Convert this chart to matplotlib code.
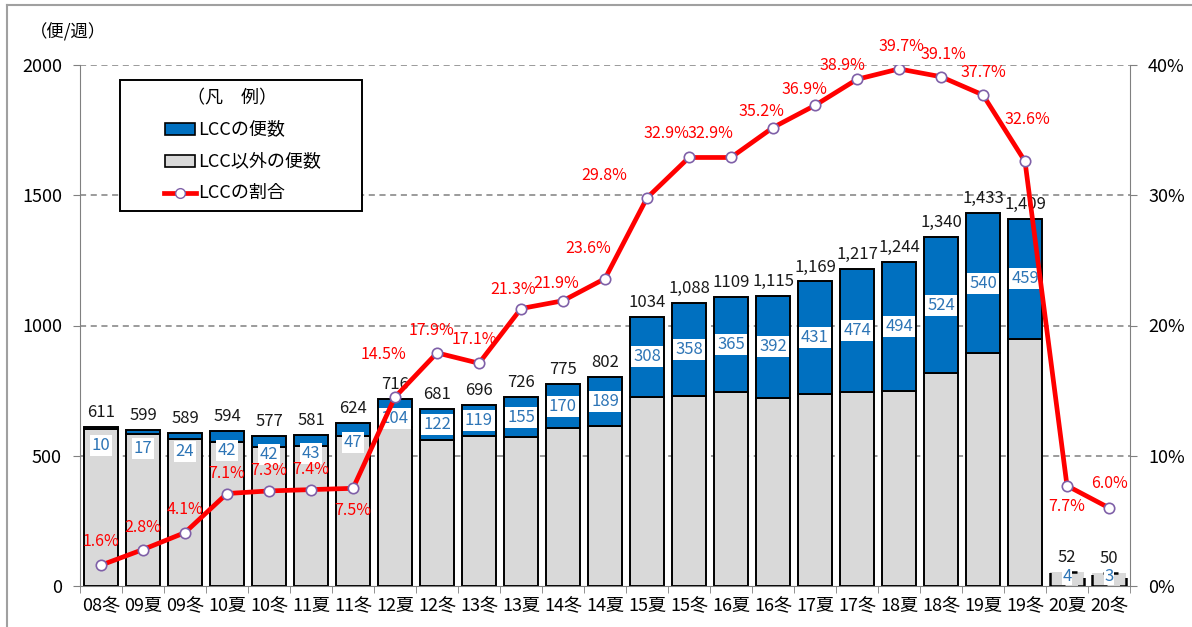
import matplotlib
matplotlib.use("Agg")
import matplotlib.pyplot as plt
from matplotlib.patches import Rectangle
from matplotlib.lines import Line2D
import numpy as np

plt.rcParams["font.family"] = ["Noto Sans CJK JP", "DejaVu Sans"]

# data
periods = ["08冬", "09夏", "09冬", "10夏", "10冬", "11夏", "11冬", "12夏", "12冬", "13冬",
           "13夏", "14冬", "14夏", "15夏", "15冬", "16夏", "16冬", "17夏", "17冬", "18夏",
           "18冬", "19夏", "19冬", "20夏", "20冬"]
total_flights = [611, 599, 589, 594, 577, 581, 624, 716, 681, 696,
                 726, 775, 802, 1034, 1088, 1109, 1115, 1169, 1217, 1244,
                 1340, 1433, 1409, 52, 50]
total_labels = ["611", "599", "589", "594", "577", "581", "624", "716", "681", "696",
                "726", "775", "802", "1034", "1,088", "1109", "1,115", "1,169", "1,217", "1,244",
                "1,340", "1,433", "1,409", "52", "50"]
lcc_flights = [10, 17, 24, 42, 42, 43, 47, 104, 122, 119,
               155, 170, 189, 308, 358, 365, 392, 431, 474, 494,
               524, 540, 459, 4, 3]
lcc_share = [1.6, 2.8, 4.1, 7.1, 7.3, 7.4, 7.5, 14.5, 17.9, 17.1,
             21.3, 21.9, 23.6, 29.8, 32.9, 32.9, 35.2, 36.9, 38.9, 39.7,
             39.1, 37.7, 32.6, 7.7, 6.0]

# label offsets for the share labels (pixels)
share_offsets = [(0, 24), (0, 22), (0, 23), (0, 20), (0, 20), (0, 20), (0, -22), (-12, 43),
                 (-5, 22), (-5, 24), (-8, 19), (-7, 17), (-17, 30), (-43, 22), (-23, 24),
                 (-21, 24), (-12, 16), (-11, 16), (-15, 14), (2, 22), (2, 22), (0, 22),
                 (2, 42), (0, -21), (0, 24)]

BLUE = "#0070C0"
GREY = "#D9D9D9"
RED = "#FF0000"
LBLUE = "#2E75B6"
MARKER_EDGE = "#7F60A8"

W, H = 1192, 627
fig = plt.figure(figsize=(W / 100, H / 100), dpi=100)
ax = fig.add_axes([80 / W, 41 / H, 1050 / W, 521 / H])

x = np.arange(len(periods))
other = np.array(total_flights) - np.array(lcc_flights)
w = 0.83
n = len(periods)

for i in range(n):
    if i < n - 2:
        ax.bar(x[i], other[i], w, color=GREY, edgecolor="black", linewidth=1.4, zorder=2)
        ax.bar(x[i], lcc_flights[i], w, bottom=other[i], color=BLUE, edgecolor="black",
               linewidth=1.4, zorder=2)
    else:
        # tiny last bars: grey fill with dashed outline
        ax.bar(x[i], total_flights[i], w, color=GREY, edgecolor="none", zorder=2)
        ax.add_patch(Rectangle((x[i] - w / 2, 0), w, total_flights[i], fill=False,
                               edgecolor="black", linewidth=1.8, linestyle=(0, (6, 5)),
                               zorder=3))

    # LCC count label in white box
    if lcc_flights[i] >= 110:
        ly = other[i] + lcc_flights[i] / 2
    else:
        ly = max(total_flights[i] - 72, total_flights[i] * 0.72)
    pad = 0.12 if i < n - 2 else 0.02
    ax.text(x[i], ly, str(lcc_flights[i]), ha="center", va="center", fontsize=12,
            color=LBLUE, zorder=4,
            bbox=dict(boxstyle=f"square,pad={pad}", facecolor="white", edgecolor="none"))

    # total label
    ax.annotate(total_labels[i], (x[i], total_flights[i]), xytext=(0, 6),
                textcoords="offset pixels", ha="center", va="bottom", fontsize=12,
                color="#1a1a1a", zorder=4)

ax.set_xlim(-0.5, n - 0.5)
ax.set_ylim(0, 2000)
ax.set_yticks([0, 500, 1000, 1500, 2000])
ax.set_yticklabels(["0", "500", "1000", "1500", "2000"], fontsize=13)
ax.set_xticks(x)
ax.set_xticklabels(periods, fontsize=13)
ax.set_xticks(np.arange(-0.5, n, 1), minor=True)
ax.tick_params(axis="x", which="major", length=0, pad=7)
ax.tick_params(axis="x", which="minor", length=5, color="#808080", direction="out")
ax.tick_params(axis="y", length=5, color="#808080", pad=8)
for yv in [500, 1000, 1500, 2000]:
    ax.axhline(yv, color="#808080", linestyle=(0, (4, 3)), linewidth=1.1, zorder=1)
for side in ["top", "right"]:
    ax.spines[side].set_visible(False)
ax.spines["left"].set_color("#808080")
ax.spines["bottom"].set_color("#808080")
ax.set_facecolor("none")

ax2 = ax.twinx()
ax2.set_ylim(0, 40)
ax2.set_yticks([0, 10, 20, 30, 40])
ax2.set_yticklabels(["0%", "10%", "20%", "30%", "40%"], fontsize=13)
ax2.tick_params(axis="y", length=5, color="#808080", pad=8)
for side in ["top", "left", "bottom"]:
    ax2.spines[side].set_visible(False)
ax2.spines["right"].set_color("#808080")

ax2.plot(x, lcc_share, color=RED, linewidth=3.4, marker="o", markersize=7.5,
         markerfacecolor="white", markeredgecolor=MARKER_EDGE, markeredgewidth=1.2, zorder=5)
for i in range(n):
    ax2.annotate(f"{lcc_share[i]:.1f}%", (x[i], lcc_share[i]), xytext=share_offsets[i],
                 textcoords="offset pixels", ha="center", va="center", fontsize=11.5,
                 color=RED, zorder=6)

fig.text(30 / W, 1 - 32 / H, "（便/週）", fontsize=12.5, ha="left", va="center")

# legend box drawn by hand to match the original layout
def fx(px):
    return px / W

def fy(py):
    return 1 - py / H

fig.add_artist(Rectangle((fx(120), fy(211)), fx(242), 131 / H, facecolor="white",
                         edgecolor="black", linewidth=1.4, zorder=10))
fig.text(fx(232), fy(98), "（凡　例）", fontsize=13, ha="center", va="center", zorder=11)
legend_labels = ["LCCの便数", "LCC以外の便数", "LCCの割合"]
legend_y = [129, 161, 193]
fig.add_artist(Rectangle((fx(165), fy(legend_y[0] + 6)), fx(30), 12 / H, facecolor=BLUE,
                         edgecolor="black", linewidth=1.2, zorder=11))
fig.add_artist(Rectangle((fx(165), fy(legend_y[1] + 6)), fx(30), 12 / H, facecolor=GREY,
                         edgecolor="black", linewidth=1.2, zorder=11))
fig.add_artist(Line2D([fx(164), fx(196)], [fy(legend_y[2]), fy(legend_y[2])], color=RED,
                      linewidth=3.4, zorder=11))
fig.add_artist(Line2D([fx(180)], [fy(legend_y[2])], marker="o", markersize=7,
                      markerfacecolor="white", markeredgecolor=MARKER_EDGE, zorder=12))
for lab, ly in zip(legend_labels, legend_y):
    fig.text(fx(198), fy(ly), lab, fontsize=13, ha="left", va="center", zorder=11)

# outer frame
fig.add_artist(Line2D([fx(7), fx(7)], [0, fy(5)], color="#A0A0A0", linewidth=1.5))
fig.add_artist(Line2D([fx(7), 1], [fy(5), fy(5)], color="#A0A0A0", linewidth=1.5))

fig.savefig("out.png", dpi=100)
